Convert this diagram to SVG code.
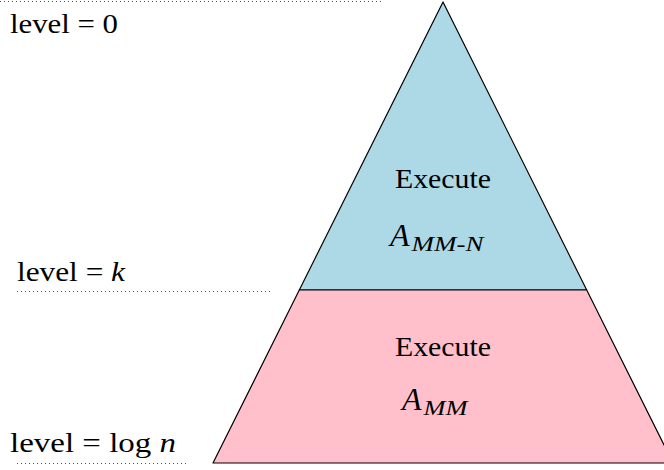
<svg xmlns="http://www.w3.org/2000/svg" width="664" height="470" viewBox="0 0 664 470">
<style>
.t{font-family:"Liberation Serif","DejaVu Serif",serif;font-size:27px;fill:#000}
.i{font-style:italic}
.s{font-size:21px;font-style:italic}
.dot{stroke:#555;stroke-width:1;stroke-dasharray:1 3;fill:none}
.edge{stroke:#000;stroke-width:1.2;stroke-linejoin:round}
</style>
<g id="levels">
<line class="dot" x1="0" y1="1.5" x2="384" y2="1.5"/>
<line class="dot" x1="17" y1="291.5" x2="272" y2="291.5"/>
<line class="dot" x1="17" y1="463.5" x2="186" y2="463.5"/>
<text class="t" x="10" y="33" textLength="108" lengthAdjust="spacingAndGlyphs">level = 0</text>
<text class="t" x="17" y="281" textLength="108" lengthAdjust="spacingAndGlyphs">level = <tspan class="i">k</tspan></text>
<text class="t" x="10" y="452" textLength="166" lengthAdjust="spacingAndGlyphs">level = log <tspan class="i">n</tspan></text>
</g>
<g id="top">
<polygon class="edge" points="443,2 299.3,290 586.7,290" fill="#add8e6"/>
<text class="t" x="443" y="188" text-anchor="middle" textLength="96" lengthAdjust="spacingAndGlyphs">Execute</text>
<text class="t" x="390" y="246"><tspan class="i" font-size="32">A</tspan><tspan class="s" dx="2" dy="5" textLength="72" lengthAdjust="spacingAndGlyphs">MM-N</tspan></text>
</g>
<g id="bottom">
<polygon class="edge" points="299.3,290 586.7,290 673,463 213,463" fill="#ffc0cb"/>
<text class="t" x="443" y="356" text-anchor="middle" textLength="96" lengthAdjust="spacingAndGlyphs">Execute</text>
<text class="t" x="402" y="410"><tspan class="i" font-size="32">A</tspan><tspan class="s" dx="2" dy="5" textLength="44" lengthAdjust="spacingAndGlyphs">MM</tspan></text>
</g>
</svg>
